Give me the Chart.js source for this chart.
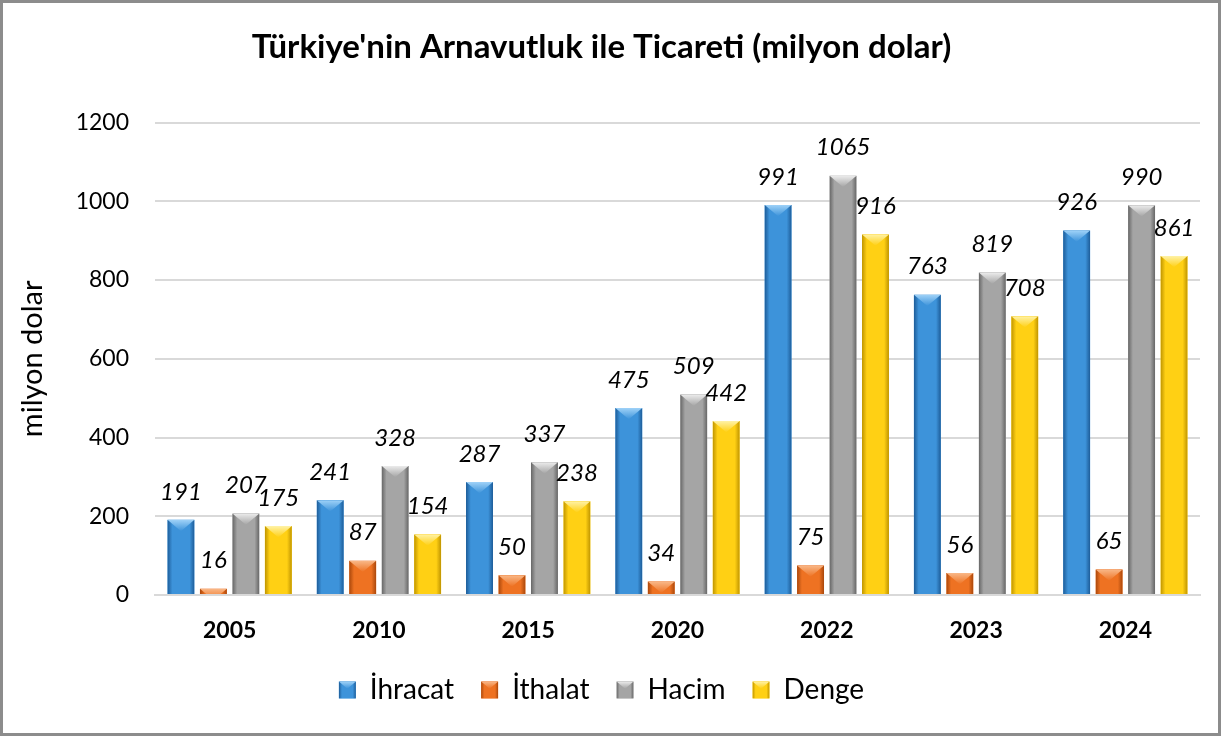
<!DOCTYPE html>
<html>
<head>
<meta charset="utf-8">
<script src="https://cdn.jsdelivr.net/npm/chart.js@4"></script>
<style>
  body { margin: 0; background: #fff; }
  #wrap { width: 1221px; height: 736px; box-sizing: border-box; border: 3px solid #8c8c8c; }
</style>
</head>
<body>
<div id="wrap"><canvas id="chart"></canvas></div>
<script>
  const years = ["2005", "2010", "2015", "2020", "2022", "2023", "2024"];
  const ihracat = [191, 241, 287, 475, 991, 763, 926];
  const ithalat = [16, 87, 50, 34, 75, 56, 65];
  const hacim = [207, 328, 337, 509, 1065, 819, 990];
  const denge = [175, 154, 238, 442, 916, 708, 861];
  const yTicks = [0, 200, 400, 600, 800, 1000, 1200];

  const FONT = "Lato, 'Liberation Sans', sans-serif";

  // main / dark edge / light bevel
  const palette = [
    ["#3d93da", "#1d5c98", "#9fd2f8"],
    ["#ee7222", "#a9470b", "#f9b888"],
    ["#a5a5a5", "#666666", "#ececec"],
    ["#ffd014", "#bf9400", "#fff2a6"],
  ];

  function bevel(ctx, x0, x1, top, bottom, colors) {
    const w = x1 - x0;
    const cx = (x0 + x1) / 2;
    ctx.save();
    ctx.beginPath();
    ctx.rect(x0, top, w, bottom - top);
    ctx.clip();
    const g = ctx.createLinearGradient(x0, 0, x1, 0);
    g.addColorStop(0, colors[1]);
    g.addColorStop(0.18, colors[0]);
    g.addColorStop(0.82, colors[0]);
    g.addColorStop(1, colors[1]);
    ctx.fillStyle = g;
    ctx.fillRect(x0, top, w, bottom - top);
    const h = w * 0.42;
    const tg = ctx.createLinearGradient(0, top, 0, top + h);
    tg.addColorStop(0, colors[2]);
    tg.addColorStop(1, colors[0]);
    ctx.fillStyle = tg;
    ctx.beginPath();
    ctx.moveTo(x0, top);
    ctx.lineTo(x1, top);
    ctx.lineTo(cx, top + h);
    ctx.closePath();
    ctx.fill();
    ctx.restore();
  }

  const barLook = {
    id: "barLook",
    afterDatasetsDraw(chart) {
      const ctx = chart.ctx;
      chart.data.datasets.forEach((ds, i) => {
        const meta = chart.getDatasetMeta(i);
        if (meta.hidden) return;
        meta.data.forEach((bar, j) => {
          const x0 = bar.x - bar.width / 2;
          const x1 = bar.x + bar.width / 2;
          bevel(ctx, x0, x1, bar.y, bar.base, palette[i]);
          ctx.save();
          ctx.fillStyle = "#000";
          ctx.font = "italic 24px " + FONT;
          ctx.textAlign = "center";
          ctx.textBaseline = "middle";
          ctx.fillText(ds.data[j], bar.x, bar.y - 28);
          ctx.restore();
        });
      });
    },
    afterDraw(chart) {
      const ctx = chart.ctx;
      const boxes = chart.legend.legendHitBoxes || [];
      boxes.forEach((hb, i) => {
        const top = hb.top + (hb.height - 17) / 2;
        bevel(ctx, hb.left, hb.left + 17, top, top + 17, palette[i]);
      });
    },
  };

  const makeSet = (label, data, i) => ({
    label,
    data,
    backgroundColor: palette[i][0],
    borderWidth: 0,
    categoryPercentage: 0.87,
    barPercentage: 0.83,
  });

  new Chart(document.getElementById("chart"), {
    type: "bar",
    data: {
      labels: years,
      datasets: [
        makeSet("İhracat", ihracat, 0),
        makeSet("İthalat", ithalat, 1),
        makeSet("Hacim", hacim, 2),
        makeSet("Denge", denge, 3),
      ],
    },
    options: {
      responsive: true,
      maintainAspectRatio: false,
      animation: false,
      layout: { padding: { left: 0, right: 18, top: 0, bottom: 19 } },
      plugins: {
        tooltip: { enabled: false },
        title: {
          display: true,
          text: "Türkiye'nin Arnavutluk ile Ticareti (milyon dolar)",
          color: "#000",
          font: { family: FONT, size: 33, weight: "bold" },
          padding: { top: 25, bottom: 55 },
        },
        legend: {
          position: "bottom",
          labels: {
            color: "#000",
            font: { family: FONT, size: 28 },
            boxWidth: 17,
            boxHeight: 17,
            padding: 27,
          },
        },
      },
      scales: {
        x: {
          afterFit: (s) => { s.height = 54; },
          grid: { display: false, drawTicks: false },
          border: { display: true, color: "#d9d9d9", width: 2 },
          ticks: {
            color: "#000",
            font: { family: FONT, size: 23, weight: "bold" },
            padding: 22,
          },
        },
        y: {
          min: 0,
          max: 1200,
          afterBuildTicks: (s) => { s.ticks = yTicks.map((v) => ({ value: v })); },
          afterFit: (s) => { s.width = 152; },
          grid: { color: "#d9d9d9", lineWidth: 2, drawTicks: false },
          border: { display: false },
          ticks: {
            color: "#000",
            font: { family: FONT, size: 23 },
            padding: 26,
            callback: (v) => String(v),
          },
          title: {
            display: true,
            text: "milyon dolar",
            color: "#000",
            font: { family: FONT, size: 29 },
            padding: { top: 12, bottom: 0 },
          },
        },
      },
    },
    plugins: [barLook],
  });
</script>
</body>
</html>
